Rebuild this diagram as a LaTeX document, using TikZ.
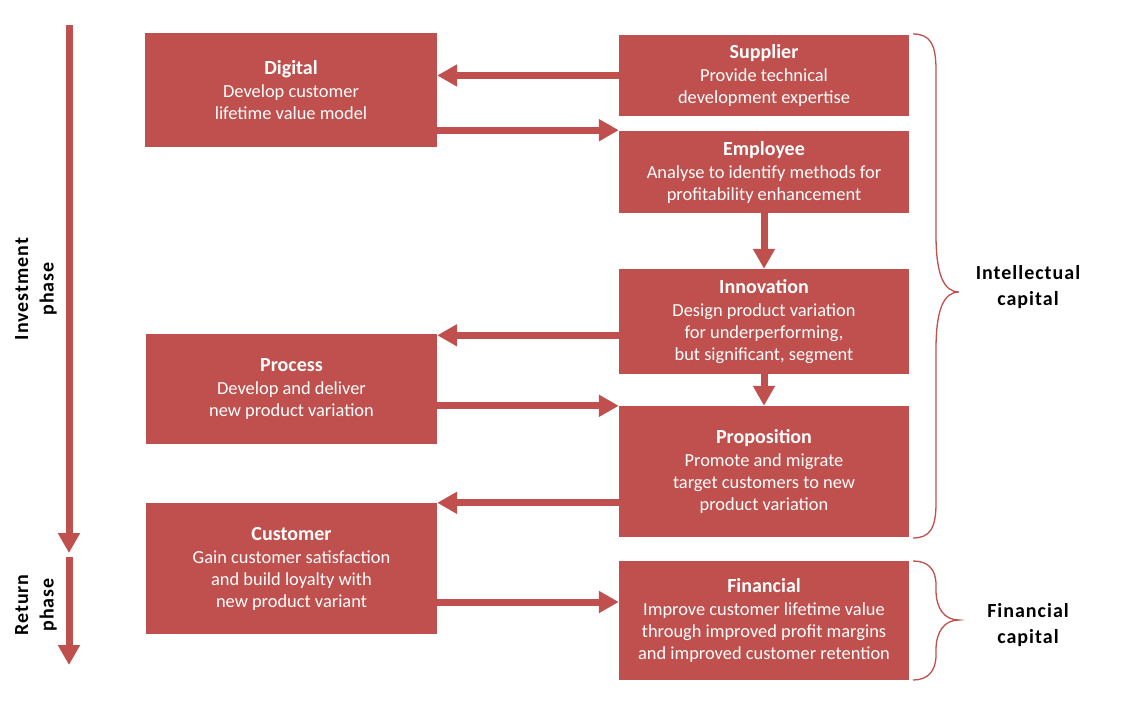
\documentclass[tikz,border=0pt]{standalone}
\usepackage{fontspec}
\setmainfont{Carlito}
\usetikzlibrary{arrows.meta,calc}
\definecolor{boxred}{HTML}{C0504D}
\tikzset{
  card/.style={fill=boxred, draw=none, text=white, align=center, inner sep=0pt, font=\fontsize{18.4}{22}\selectfont},
  arr/.style={draw=boxred, line width=7pt, -{Triangle[width=21pt,length=20pt]}},
  brc/.style={draw=boxred, line width=1.3pt},
  side/.style={align=center, text=black, font=\fontsize{20}{25.5}\selectfont\bfseries\addfontfeatures{LetterSpace=5}},
}
\newcommand{\cardtitle}[1]{{\fontsize{20}{24}\selectfont\bfseries #1}}
\begin{document}
\begin{tikzpicture}[x=1pt,y=-1pt]
\useasboundingbox (0,0) rectangle (1126,710);
\fill[white] (0,0) rectangle (1126,710);

\node[card, minimum width=292pt, minimum height=114pt] (digital) at (291,90)
  {\cardtitle{Digital}\\[1pt] Develop customer\\ lifetime value model};
\node[card, minimum width=290pt, minimum height=81pt] (supplier) at (764,75.5)
  {\cardtitle{Supplier}\\[1pt] Provide technical\\ development expertise};
\node[card, minimum width=290pt, minimum height=82pt] (employee) at (764,172)
  {\cardtitle{Employee}\\[1pt] Analyse to identify methods for\\ profitability enhancement};
\node[card, minimum width=290pt, minimum height=105pt] (innovation) at (764,321.5)
  {\cardtitle{Innovation}\\[1pt] Design product variation\\ for underperforming,\\ but significant, segment};
\node[card, minimum width=291pt, minimum height=110pt] (process) at (291.5,389)
  {\cardtitle{Process}\\[1pt] Develop and deliver\\ new product variation};
\node[card, minimum width=290pt, minimum height=131pt] (proposition) at (764,471.5)
  {\cardtitle{Proposition}\\[1pt] Promote and migrate\\ target customers to new\\ product variation};
\node[card, minimum width=291pt, minimum height=131pt] (customer) at (291.5,568.5)
  {\cardtitle{Customer}\\[1pt] Gain customer satisfaction\\ and build loyalty with\\ new product variant};
\node[card, minimum width=290pt, minimum height=119pt] (financial) at (764,620.5)
  {\cardtitle{Financial}\\[1pt] Improve customer lifetime value\\ through improved profit margins\\ and improved customer retention};

% connectors
\draw[arr] (supplier.west) -- (supplier.west -| digital.east);
\coordinate (a1) at ([yshift=17pt]digital.south east);
\draw[arr] (a1) -- (a1 -| employee.west);
\draw[arr] (employee.south) -- (innovation.north);
\coordinate (a2) at ([yshift=-1.5pt]process.north east);
\draw[arr] (a2 -| innovation.west) -- (a2);
\draw[arr] (innovation.south) -- (proposition.north);
\draw[arr] (proposition.north west -| process.east) -- (proposition.north west);
\draw[arr] (customer.north east -| proposition.west) -- (customer.north east);
\coordinate (a3) at ([yshift=-33.5pt]customer.east);
\draw[arr] (a3) -- (a3 -| financial.west);

% phase arrows
\coordinate (i1) at (69,25);
\coordinate (i2) at (69,553);
\coordinate (r1) at (69,557);
\coordinate (r2) at (69,665);
\draw[arr] (i1) -- (i2);
\draw[arr] (r1) -- (r2);
\node[side, rotate=90] (invest) at (36,289) {Investment\\ phase};
\node[side, rotate=90] (ret) at (36,605) {Return\\ phase};

% braces
\draw[brc] (913,34) .. controls (930,34) and (936,44) .. (936,70) -- (936,235)
  .. controls (936,275) and (944,292) .. (959,292)
  .. controls (944,292) and (936,309) .. (936,349) -- (936,503)
  .. controls (936,528) and (930,538) .. (913,538);
\draw[brc] (913,561) .. controls (927,561) and (936,568) .. (936,585) -- (936,590)
  .. controls (936,608) and (944,620) .. (959,620)
  .. controls (944,620) and (936,632) .. (936,650) -- (936,655)
  .. controls (936,672) and (927,680) .. (913,680);
\node[side] (intel) at (1028,287) {Intellectual\\ capital};
\node[side] (fin) at (1028,625) {Financial\\ capital};
\end{tikzpicture}
\end{document}
